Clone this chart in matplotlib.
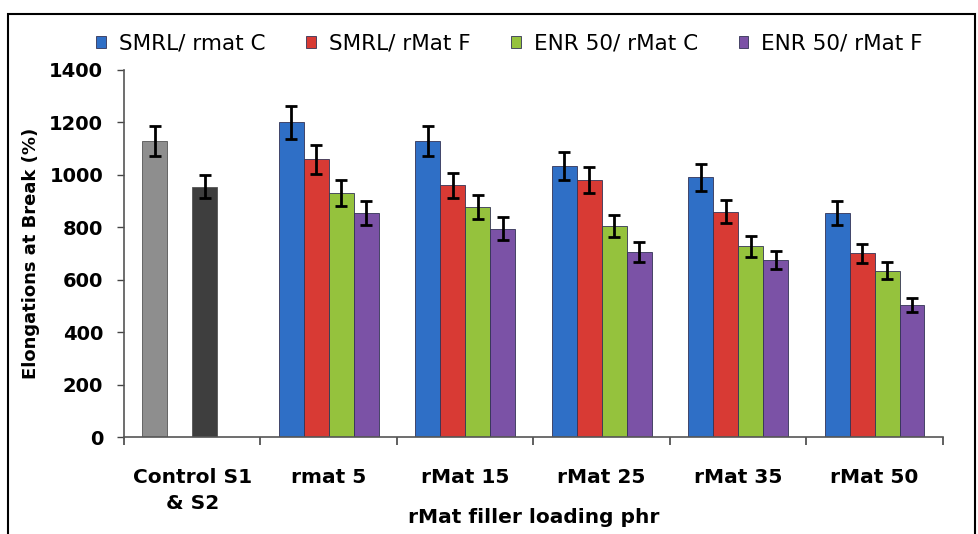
import numpy as np
import matplotlib.pyplot as plt
from matplotlib.patches import Rectangle
from matplotlib.ticker import FixedLocator

plt.rcParams['font.family'] = ['DejaVu Sans']

# data
categories = ["Control S1\n& S2", "rmat 5", "rMat 15", "rMat 25", "rMat 35", "rMat 50"]
series_names = ["SMRL/ rmat C", "SMRL/ rMat F", "ENR 50/ rMat C", "ENR 50/ rMat F"]

control_vals = [1130, 955]
control_err = [58, 45]

smrl_c = [1200, 1130, 1035, 990, 855]
smrl_f = [1060, 960, 980, 860, 700]
enr_c = [932, 878, 805, 727, 635]
enr_f = [855, 795, 707, 675, 503]

smrl_c_err = [62, 57, 53, 50, 45]
smrl_f_err = [55, 48, 50, 45, 38]
enr_c_err = [50, 45, 43, 40, 34]
enr_f_err = [45, 45, 38, 33, 28]

colors = ["#2f6fc6", "#d83a34", "#95c23d", "#7b52a6"]
control_colors = ["#8e8e8e", "#3e3e3e"]

fig = plt.figure(figsize=(9.79, 5.34), dpi=100)
ax = fig.add_axes([0.1267, 0.1816, 0.8363, 0.6874])

w = 0.183
err_kw = dict(ecolor="black", elinewidth=2, capsize=4.5, capthick=2)

# control bars
ax.bar([0 - 1.5 * w, 0 + 0.5 * w], control_vals, width=w, color=control_colors,
       edgecolor="#555555", linewidth=0.6, yerr=control_err, error_kw=err_kw)

# filler groups
x = np.arange(1, 6)
all_vals = [smrl_c, smrl_f, enr_c, enr_f]
all_err = [smrl_c_err, smrl_f_err, enr_c_err, enr_f_err]
for i, (vals, errs) in enumerate(zip(all_vals, all_err)):
    ax.bar(x + (i - 1.5) * w, vals, width=w, color=colors[i], edgecolor="#333355",
           linewidth=0.6, yerr=errs, error_kw=err_kw, label=series_names[i])

ax.set_xlim(-0.5, 5.5)
ax.set_ylim(0, 1400)
ax.set_yticks(np.arange(0, 1401, 200))
ax.set_xticks(np.arange(6))
ax.set_xticklabels(categories, fontsize=14.5, fontweight="bold", linespacing=1.5)
ax.xaxis.set_minor_locator(FixedLocator(np.arange(-0.5, 6, 1)))
ax.tick_params(axis="x", which="major", length=0, pad=22)
ax.tick_params(axis="x", which="minor", length=6, width=1.2, color="#444444")
ax.tick_params(axis="y", length=5, width=1, color="#444444", labelsize=14, pad=10)
for lbl in ax.get_yticklabels():
    lbl.set_fontweight("bold")

for s in ["top", "right"]:
    ax.spines[s].set_visible(False)
for s in ["left", "bottom"]:
    ax.spines[s].set_color("#555555")
    ax.spines[s].set_linewidth(1.2)

ax.set_ylabel("Elongations at Break (%)", fontsize=13, fontweight="bold", va="center")
ax.yaxis.set_label_coords(-0.1136, 0.5)
ax.set_xlabel("rMat filler loading phr", fontsize=14.5, fontweight="bold", va="center")
ax.xaxis.set_label_coords(0.5, -0.218)

fig.legend(loc="center left", bbox_to_anchor=(0.098, 0.918), ncol=4, frameon=False,
           fontsize=15.5, handlelength=0.45, handleheight=0.45, handletextpad=0.6,
           columnspacing=1.9, borderpad=0, borderaxespad=0)

# outer frame
fig.patches.append(Rectangle((0.008, -0.05), 0.988, 1.024, transform=fig.transFigure,
                             fill=False, edgecolor="black", linewidth=1.5))

fig.savefig("out.png", dpi=100)
